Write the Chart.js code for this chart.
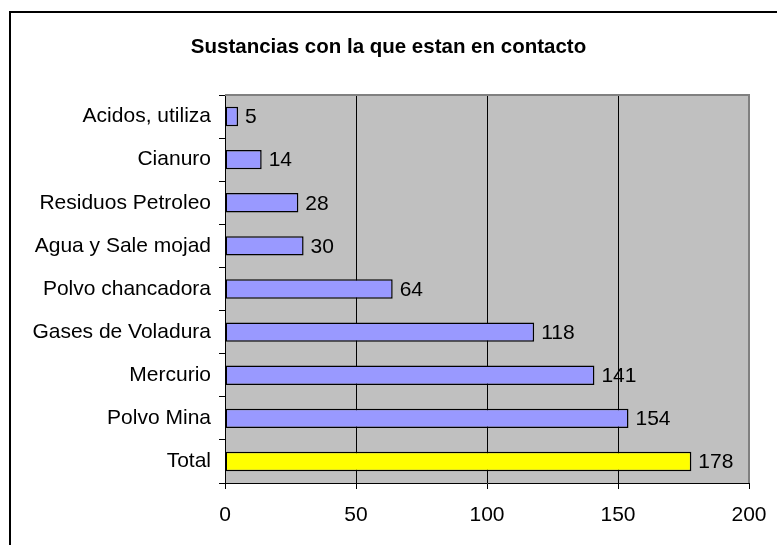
<!DOCTYPE html>
<html>
<head>
<meta charset="utf-8">
<script src="https://cdn.jsdelivr.net/npm/chart.js@4.4.1/dist/chart.umd.min.js"></script>
<style>
  html, body { margin: 0; padding: 0; background: #fff; overflow: hidden; }
  #wrap { position: relative; width: 777px; height: 545px; }
  #frame { position: absolute; left: 9px; top: 11px; width: 900px; height: 700px; border: 2px solid #000; box-sizing: border-box; }
  canvas { position: absolute; left: 0; top: 0; }
</style>
</head>
<body>
<div id="wrap">
  <div id="frame"></div>
  <canvas id="chart" width="777" height="545"></canvas>
</div>
<script>
// data
const categories = ['Acidos, utiliza', 'Cianuro', 'Residuos Petroleo', 'Agua y Sale mojad',
    'Polvo chancadora', 'Gases de Voladura', 'Mercurio', 'Polvo Mina', 'Total'];
const counts = [5, 14, 28, 30, 64, 118, 141, 154, 178];
const barColors = ['#9999FF', '#9999FF', '#9999FF', '#9999FF', '#9999FF',
    '#9999FF', '#9999FF', '#9999FF', '#FFFF00'];
const xTicks = [0, 50, 100, 150, 200];

Chart.defaults.font.family = "'Liberation Sans', Arial, sans-serif";
Chart.defaults.color = '#000';

// gray plot area with the darker edge on top and right
const plotArea = {
    id: 'plotArea',
    beforeDraw(chart) {
        const a = chart.chartArea;
        const ctx = chart.ctx;
        ctx.save();
        ctx.fillStyle = '#C0C0C0';
        ctx.fillRect(a.left, a.top, a.right - a.left, a.bottom - a.top);
        ctx.restore();
    },
    afterDraw(chart) {
        const a = chart.chartArea;
        const ctx = chart.ctx;
        ctx.save();
        ctx.strokeStyle = '#808080';
        ctx.lineWidth = 2;
        ctx.beginPath();
        ctx.moveTo(a.left, a.top);
        ctx.lineTo(a.right, a.top);
        ctx.lineTo(a.right, a.bottom);
        ctx.stroke();
        ctx.restore();
    }
};

// value next to each bar
const barValues = {
    id: 'barValues',
    afterDatasetsDraw(chart) {
        const ctx = chart.ctx;
        const meta = chart.getDatasetMeta(0);
        ctx.save();
        ctx.font = "21px 'Liberation Sans', Arial, sans-serif";
        ctx.fillStyle = '#000';
        ctx.textAlign = 'left';
        ctx.textBaseline = 'middle';
        meta.data.forEach((bar, i) => {
            ctx.fillText(String(counts[i]), bar.x + 7, bar.y + 1);
        });
        ctx.restore();
    }
};

new Chart(document.getElementById('chart'), {
    type: 'bar',
    data: {
        labels: categories,
        datasets: [{
            data: counts,
            backgroundColor: barColors,
            borderColor: '#000',
            borderWidth: 1.5,
            borderSkipped: false,
            categoryPercentage: 1,
            barPercentage: 0.45
        }]
    },
    options: {
        indexAxis: 'y',
        responsive: false,
        animation: false,
        layout: {
            padding: { left: 24, right: 24, top: 0, bottom: 0 }
        },
        plugins: {
            legend: { display: false },
            tooltip: { enabled: false },
            title: {
                display: true,
                text: 'Sustancias con la que estan en contacto',
                color: '#000',
                font: { size: 20.5, weight: 'bold' },
                padding: { top: 35, bottom: 35.4 }
            }
        },
        scales: {
            x: {
                min: 0,
                max: 200,
                afterBuildTicks(scale) {
                    scale.ticks = xTicks.map(v => ({ value: v }));
                },
                afterFit(scale) {
                    scale.height = 62;
                    scale.paddingRight = 28;
                },
                border: { display: true, color: '#000', width: 1 },
                grid: {
                    color: ctx => (ctx.tick && (ctx.tick.value === 0 || ctx.tick.value === 200)) ? 'rgba(0,0,0,0)' : '#000',
                    tickColor: '#000',
                    tickLength: 6,
                    lineWidth: 1
                },
                ticks: {
                    color: '#000',
                    font: { size: 21 },
                    padding: 14,
                    maxRotation: 0,
                    autoSkip: false
                }
            },
            y: {
                afterFit(scale) {
                    scale.width = 201;
                },
                border: { display: true, color: '#000', width: 1 },
                grid: {
                    offset: true,
                    drawOnChartArea: false,
                    drawTicks: true,
                    tickLength: 6,
                    tickColor: '#000',
                    color: '#000'
                },
                ticks: {
                    color: '#000',
                    font: { size: 21 },
                    padding: 8,
                    autoSkip: false
                }
            }
        }
    },
    plugins: [plotArea, barValues]
});
</script>
</body>
</html>
